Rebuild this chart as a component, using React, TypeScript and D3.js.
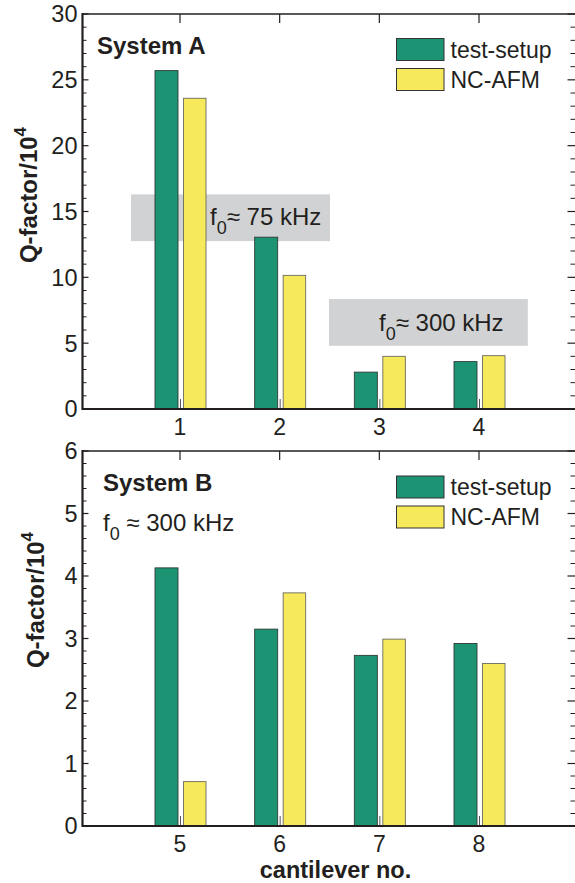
import React from "react";
import * as d3 from "d3";

const categoriesA = [1, 2, 3, 4];
const testSetupA = [25.7, 13.05, 2.8, 3.6];
const ncAfmA = [23.6, 10.15, 4.0, 4.05];

const categoriesB = [5, 6, 7, 8];
const testSetupB = [4.13, 3.15, 2.73, 2.92];
const ncAfmB = [0.71, 3.73, 2.99, 2.6];

const seriesNames = ["test-setup", "NC-AFM"];
const yTicksA = [0, 5, 10, 15, 20, 25, 30];
const yTicksB = [0, 1, 2, 3, 4, 5, 6];

// shaded annotation boxes for panel A in data units: [x0, x1, y0, y1]
const boxA75 = [0.508, 2.505, 12.75, 16.3];
const boxA300 = [2.495, 4.49, 4.8, 8.35];

const GREEN = "#1c9474";
const YELLOW = "#f6e95c";
const GRAY = "#d1d2d4";
const INK = "#231f20";
const FONT = "'Liberation Sans', Arial, Helvetica, sans-serif";

type PanelProps = {
  top: number;
  bottom: number;
  yMax: number;
  majorTicks: number[];
  minorStep: number;
  cats: number[];
  test: number[];
  nc: number[];
  title: string;
  legendTop: number;
  titleX: number;
  titleY: number;
  yLabelX: number;
  yLabelY: number;
  children?: React.ReactNode;
};

const LEFT = 82.5;
const RIGHT = 575.5;

function Panel(p: PanelProps) {
  const idx = d3.scaleLinear().domain([0, 3]).range([180, 479]);
  const y = d3.scaleLinear().domain([0, p.yMax]).range([p.bottom, p.top]);
  const minor = d3.range(0, p.yMax + 1e-9, p.minorStep).filter(
    (v) => !p.majorTicks.some((m) => Math.abs(m - v) < 1e-6)
  );
  const catX = (i: number) => idx(i);
  return (
    <g>
      {p.children}
      {p.cats.map((c, i) => (
        <g key={"b" + c}>
          <rect
            x={catX(i) - 25}
            y={y(p.test[i])}
            width={23}
            height={p.bottom - y(p.test[i])}
            fill={GREEN}
            stroke="#2e3a35"
            strokeWidth={0.9}
          />
          <rect
            x={catX(i) + 3.5}
            y={y(p.nc[i])}
            width={22.5}
            height={p.bottom - y(p.nc[i])}
            fill={YELLOW}
            stroke="#6b6a5e"
            strokeWidth={0.9}
          />
          <line
            x1={catX(i) + 0.5}
            x2={catX(i) + 0.5}
            y1={p.bottom}
            y2={p.bottom - 10}
            stroke="#555"
            strokeWidth={1}
          />
          <line
            x1={catX(i)}
            x2={catX(i)}
            y1={p.top}
            y2={p.top + 9}
            stroke={INK}
            strokeWidth={1.2}
          />
          <text
            x={catX(i)}
            y={p.bottom + 26}
            textAnchor="middle"
            fontSize={23}
            fill={INK}
          >
            {c}
          </text>
        </g>
      ))}
      <line x1={LEFT} x2={RIGHT} y1={p.top} y2={p.top} stroke={INK} strokeWidth={1.6} />
      <line x1={LEFT} x2={RIGHT} y1={p.bottom} y2={p.bottom} stroke={INK} strokeWidth={2.2} />
      <line x1={LEFT} x2={LEFT} y1={p.top - 1} y2={p.bottom + 1} stroke={INK} strokeWidth={2.2} />
      {p.majorTicks.map((t) => (
        <g key={"m" + t}>
          <line x1={LEFT} x2={LEFT + 6} y1={y(t)} y2={y(t)} stroke={INK} strokeWidth={1.2} />
          <line x1={RIGHT} x2={RIGHT - 8} y1={y(t)} y2={y(t)} stroke={INK} strokeWidth={1.2} />
          <text
            x={LEFT - 5}
            y={y(t)}
            dy="0.36em"
            textAnchor="end"
            fontSize={23.5}
            fill={INK}
          >
            {t}
          </text>
        </g>
      ))}
      {minor.map((t) => (
        <g key={"n" + t}>
          <line x1={LEFT} x2={LEFT + 4} y1={y(t)} y2={y(t)} stroke={INK} strokeWidth={1} />
          <line x1={RIGHT} x2={RIGHT - 5} y1={y(t)} y2={y(t)} stroke={INK} strokeWidth={1} />
        </g>
      ))}
      <text x={p.titleX} y={p.titleY} fontSize={24} fontWeight="bold" fill={INK}>
        {p.title}
      </text>
      {seriesNames.map((s, i) => (
        <g key={s}>
          <rect
            x={396.5}
            y={p.legendTop + i * 30}
            width={47.5}
            height={22}
            fill={i === 0 ? GREEN : YELLOW}
            stroke="#333"
            strokeWidth={1}
          />
          <text x={450.5} y={p.legendTop + 19 + i * 30} fontSize={23} fill={INK}>
            {s}
          </text>
        </g>
      ))}
      <text
        transform={`translate(${p.yLabelX},${p.yLabelY}) rotate(-90)`}
        textAnchor="middle"
        fontSize={24}
        fontWeight="bold"
        fill={INK}
      >
        Q-factor/10
        <tspan dy={-11} fontSize={17}>
          4
        </tspan>
      </text>
    </g>
  );
}

function SubF({ x, y, rest }: { x: number; y: number; rest: string }) {
  return (
    <text x={x} y={y} fontSize={24} fill={INK}>
      f
      <tspan dy={9} fontSize={18}>
        0
      </tspan>
      <tspan dy={-9}>{rest}</tspan>
    </text>
  );
}

export default function App() {
  const idxA = d3.scaleLinear().domain([1, 4]).range([180, 479]);
  const yA = d3.scaleLinear().domain([0, 30]).range([409, 14]);
  const box = (b: number[]) => (
    <rect
      x={idxA(b[0])}
      y={yA(b[3])}
      width={idxA(b[1]) - idxA(b[0])}
      height={yA(b[2]) - yA(b[3])}
      fill={GRAY}
    />
  );
  return (
    <svg
      width={575}
      height={883}
      style={{ position: "absolute", left: 0, top: 0, fontFamily: FONT }}
    >
      <rect width={575} height={883} fill="#fff" />
      <Panel
        top={14}
        bottom={409}
        yMax={30}
        majorTicks={yTicksA}
        minorStep={1}
        cats={categoriesA}
        test={testSetupA}
        nc={ncAfmA}
        title="System A"
        legendTop={38.5}
        titleX={97}
        titleY={54}
        yLabelX={37}
        yLabelY={195}
      >
        {box(boxA75)}
        {box(boxA300)}
      </Panel>
      <SubF x={210} y={225} rest="≈ 75 kHz" />
      <SubF x={379} y={331} rest="≈ 300 kHz" />
      <Panel
        top={451}
        bottom={826}
        yMax={6}
        majorTicks={yTicksB}
        minorStep={0.2}
        cats={categoriesB}
        test={testSetupB}
        nc={ncAfmB}
        title="System B"
        legendTop={476}
        titleX={103}
        titleY={491}
        yLabelX={44}
        yLabelY={600}
      />
      <SubF x={103} y={531} rest=" ≈ 300 kHz" />
      <text
        x={335.5}
        y={878}
        textAnchor="middle"
        fontSize={23.5}
        fontWeight="bold"
        fill={INK}
      >
        cantilever no.
      </text>
    </svg>
  );
}
